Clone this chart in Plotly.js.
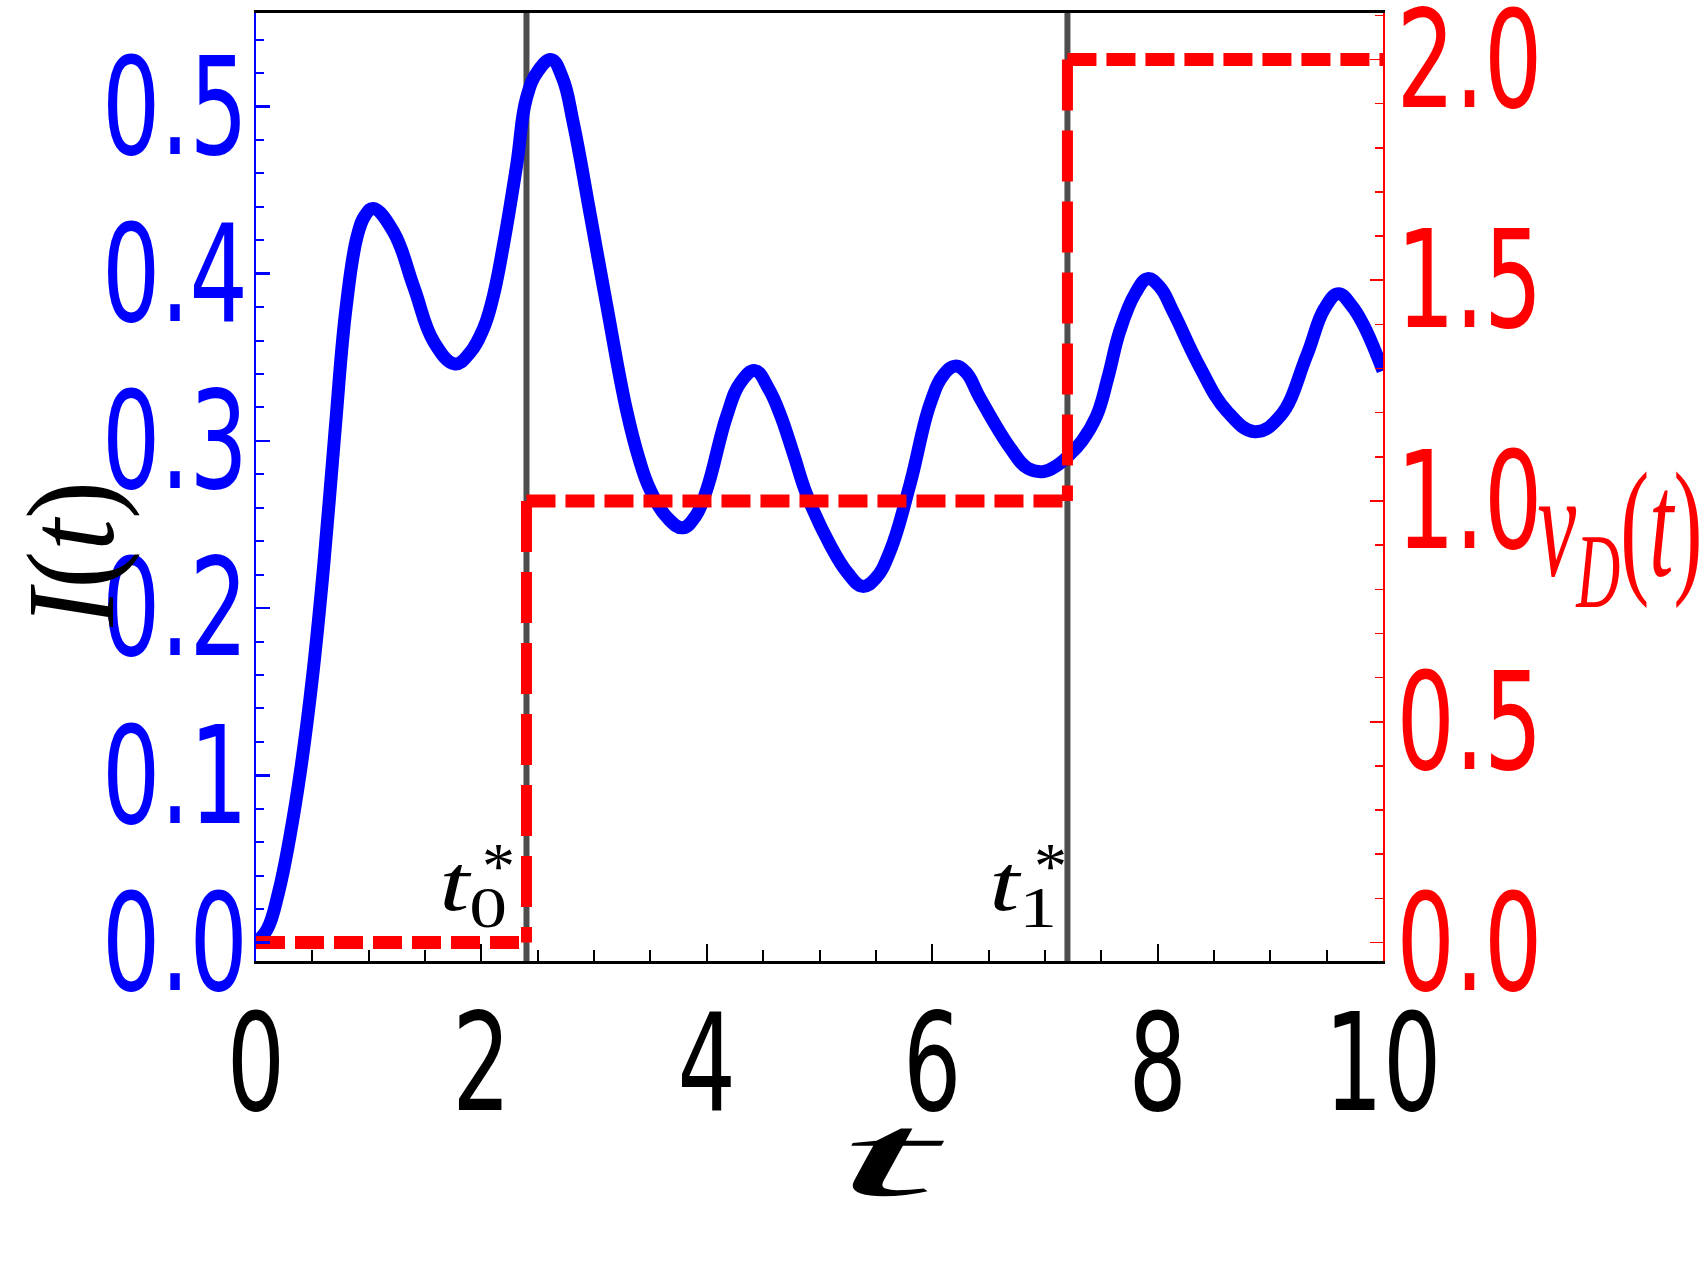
<!DOCTYPE html>
<html><head><meta charset="utf-8">
<script src="https://cdn.plot.ly/plotly-3.0.1.min.js"></script>
<style>html,body{margin:0;padding:0;background:#fff;}#chart{width:1707px;height:1280px;}</style>
</head><body><div id="chart"></div>
<script>
// ---------- data ----------
const tValues = [0, 0.1, 0.2, 0.3, 0.4, 0.5, 0.6, 0.7, 0.8, 0.9, 0.97,
  1.04, 1.22, 1.40, 1.58, 1.766, 1.89, 2.017, 2.1, 2.195, 2.313, 2.4,
  2.5, 2.62, 2.72, 2.816, 2.964, 3.112, 3.289, 3.4, 3.496, 3.65, 3.786,
  3.9, 4.0, 4.177, 4.3, 4.428, 4.55, 4.65, 4.77, 4.886, 5.093, 5.25, 5.383,
  5.5, 5.626, 5.803, 5.981, 6.1, 6.202, 6.3, 6.424, 6.69, 6.85, 6.992,
  7.1, 7.208, 7.33, 7.459, 7.56, 7.666, 7.8, 7.912, 8.02, 8.14, 8.376, 8.613, 8.864,
  9.086, 9.323, 9.48, 9.604, 9.72, 9.825, 10];
const currentI = [0, 0.008, 0.03, 0.063, 0.105, 0.158, 0.225, 0.305, 0.38, 0.423, 0.435,
  0.439, 0.425, 0.392, 0.359, 0.346, 0.352, 0.367, 0.385, 0.417, 0.465, 0.505,
  0.521, 0.528, 0.517, 0.49, 0.436, 0.381, 0.318, 0.289, 0.271, 0.254, 0.248,
  0.255, 0.271, 0.315, 0.335, 0.342, 0.331, 0.316, 0.292, 0.268, 0.238, 0.221, 0.213,
  0.218, 0.234, 0.274, 0.322, 0.3395, 0.3447, 0.341, 0.3257, 0.296, 0.2835, 0.2817,
  0.285, 0.291, 0.300, 0.315, 0.338, 0.366, 0.388, 0.397, 0.392, 0.377, 0.344, 0.318, 0.3055,
  0.3147, 0.351, 0.379, 0.388, 0.381, 0.3696, 0.342];
const driveEdges = [0, 2.4, 7.2, 10];     // v_D switching times (with ends)
const driveLevels = [0, 1, 2];            // v_D level on each interval
const markerTimes = [2.4, 7.2];           // t0*, t1*
const xTickVals = [0, 2, 4, 6, 8, 10];
const xTickText = ['0', '2', '4', '6', '8', '10'];
const leftTickVals = [0, 0.1, 0.2, 0.3, 0.4, 0.5];
const leftTickText = ['0.0', '0.1', '0.2', '0.3', '0.4', '0.5'];
const rightTickVals = [0, 0.5, 1, 1.5, 2];
const rightTickText = ['0.0', '0.5', '1.0', '1.5', '2.0'];

// ---------- geometry ----------
const L = 256, R = 1383, T = 13, B = 961;
const W = R - L, H = B - T;
const px = v => (v - L) / W;
const py = v => (B - v) / H;

// ---------- traces ----------
const hx = [], hy = [], vx = [], vy = [];
for (let i = 0; i < driveLevels.length; i++) {
  hx.push(driveEdges[i], driveEdges[i + 1], null);
  hy.push(driveLevels[i], driveLevels[i], null);
  if (i > 0) {
    vx.push(driveEdges[i], driveEdges[i], null);
    vy.push(driveLevels[i], driveLevels[i - 1], null);
  }
}
const data = [
  {x: tValues, y: currentI, type: 'scatter', mode: 'lines', xaxis: 'x', yaxis: 'y',
   line: {color: '#0000ff', width: 13, shape: 'spline', smoothing: 1.2}, hoverinfo: 'skip'},
  {x: hx, y: hy, type: 'scatter', mode: 'lines', xaxis: 'x', yaxis: 'y2',
   line: {color: '#ff0000', width: 13, dash: '29px,10px'}, hoverinfo: 'skip'},
  {x: vx, y: vy, type: 'scatter', mode: 'lines', xaxis: 'x', yaxis: 'y2',
   line: {color: '#ff0000', width: 11, dash: '51px,20px'}, hoverinfo: 'skip'}
];

const shapes = markerTimes.map(t => ({type: 'line', xref: 'x', yref: 'paper', x0: t, x1: t, y0: 0, y1: 1,
  line: {color: '#4d4d4d', width: 6}, layer: 'below'}));

const serif = 'Liberation Serif, Times New Roman, serif';
const annotations = [
  {text: '<i>I</i>(<i>t</i>)', x: px(71), y: py(555), textangle: -90, font: {family: serif, size: 124, color: '#000'}},
  {text: '<i>v</i><sub><i>D</i></sub>(<i>t</i>)', x: px(1619.5), y: py(536), font: {family: serif, size: 150, color: '#ff0000'}},
  {text: '<i>t</i>', x: px(890.5), y: py(1155), font: {family: serif, size: 118, color: '#000'}},
  {text: '<i>t</i><sub>0</sub>', x: px(472.5), y: py(889), font: {family: serif, size: 80, color: '#000'}},
  {text: '*', x: px(498), y: py(865), font: {family: serif, size: 66, color: '#000'}},
  {text: '<i>t</i><sub>1</sub>', x: px(1023), y: py(889), font: {family: serif, size: 80, color: '#000'}},
  {text: '*', x: px(1050.5), y: py(865), font: {family: serif, size: 66, color: '#000'}}
].map(a => Object.assign({xref: 'paper', yref: 'paper', showarrow: false, xanchor: 'center', yanchor: 'middle'}, a));
const annStretch = [[0.92, 1], [0.58, 1], [3.1, 1], [1.35, 1], [1, 1], [1.35, 1], [1, 1]];
const TICK_SX = 0.68;

const tickFont = c => ({family: 'DejaVu Sans, sans-serif', size: 135, color: c});
const layout = {
  width: 1707, height: 1280,
  margin: {l: L, r: 1707 - R, t: T, b: 1280 - B, pad: 0},
  paper_bgcolor: '#ffffff', plot_bgcolor: '#ffffff', showlegend: false,
  xaxis: {range: [0, 10], tickmode: 'array', tickvals: xTickVals, ticktext: xTickText,
    ticks: 'inside', ticklen: 17, tickwidth: 2, tickcolor: '#000',
    showline: true, linecolor: '#000', linewidth: 3, mirror: true,
    showgrid: false, zeroline: false, tickangle: 0, automargin: false,
    tickfont: tickFont('#000'), ticklabeloverflow: 'allow',
    minor: {tickmode: 'linear', tick0: 0, dtick: 0.5, ticks: 'inside', ticklen: 11, tickwidth: 2, tickcolor: '#000', showgrid: false}},
  yaxis: {range: [-0.01106, 0.5559], tickmode: 'array', tickvals: leftTickVals, ticktext: leftTickText,
    ticks: 'inside', ticklen: 14, tickwidth: 2.5, tickcolor: '#0000ff',
    showline: true, linecolor: '#0000ff', linewidth: 2,
    showgrid: false, zeroline: false, automargin: false,
    tickfont: tickFont('#0000ff'), ticklabeloverflow: 'allow',
    minor: {tickmode: 'linear', tick0: 0, dtick: 0.02, ticks: 'inside', ticklen: 8, tickwidth: 2, tickcolor: '#0000ff', showgrid: false}},
  yaxis2: {overlaying: 'y', side: 'right', range: [-0.0419, 2.1053], tickmode: 'array', tickvals: rightTickVals, ticktext: rightTickText,
    ticks: 'inside', ticklen: 13.5, tickwidth: 1.5, tickcolor: '#ff0000',
    showline: true, linecolor: '#ff0000', linewidth: 1.5,
    showgrid: false, zeroline: false, automargin: false,
    tickfont: tickFont('#ff0000'), ticklabeloverflow: 'allow',
    minor: {tickmode: 'linear', tick0: 0, dtick: 0.1, ticks: 'inside', ticklen: 8.5, tickwidth: 1.5, tickcolor: '#ff0000', showgrid: false}},
  shapes: shapes,
  annotations: annotations
};

// horizontal squeeze/stretch of a text element about its anchor, plus an optional shift
function stretchText(el, sx, sy, mode, dx, dy) {
  const bb = el.getBBox();
  let cx = bb.x + bb.width / 2;
  if (mode === 'end') cx = bb.x + bb.width;
  else if (mode === 'start') cx = bb.x;
  const cy = bb.y + bb.height / 2;
  const prev = el.getAttribute('transform') || '';
  el.setAttribute('transform', 'translate(' + (dx || 0) + ',' + (dy || 0) + ') ' + prev +
    ' translate(' + cx + ',' + cy + ') scale(' + sx + ',' + sy + ') translate(' + (-cx) + ',' + (-cy) + ')');
}

Plotly.newPlot('chart', data, layout, {staticPlot: true, displayModeBar: false}).then(gd => {
  gd.querySelectorAll('.xtick text').forEach(e => stretchText(e, TICK_SX, 1, 'middle', 0, -16));
  gd.querySelectorAll('.ytick text').forEach(e => stretchText(e, TICK_SX, 1, 'end', 21, 0));
  gd.querySelectorAll('.y2tick text').forEach(e => stretchText(e, TICK_SX, 1, 'start', -15, 0));
  gd.querySelectorAll('.annotation').forEach((g, i) => {
    const t = g.querySelector('text.annotation-text');
    if (t && annStretch[i]) stretchText(t, annStretch[i][0], annStretch[i][1], 'middle', 0, 0);
  });
});
</script>
</body></html>
